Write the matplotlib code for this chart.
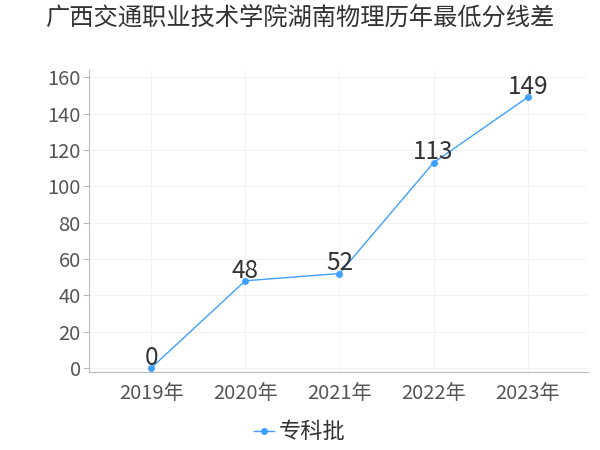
import matplotlib.pyplot as plt

plt.rcParams['font.family'] = ['Noto Sans CJK SC', 'DejaVu Sans']

years = ["2019年", "2020年", "2021年", "2022年", "2023年"]
scores = [0, 48, 52, 113, 149]
series_name = "专科批"
yticks = [0, 20, 40, 60, 80, 100, 120, 140, 160]

fig = plt.figure(figsize=(6, 4.5), dpi=100)
ax = fig.add_axes([89 / 600, 1 - 372 / 450, 499 / 600, 302 / 450])

x = list(range(len(years)))
ax.plot(x, scores, color='#3fa0ff', linewidth=1, marker='o', markersize=4,
        label=series_name, zorder=3)
for xi, v in zip(x, scores):
    ax.text(xi, v - 1.5, str(v), ha='center', va='bottom', fontsize=17.5, color='#333333')

ax.set_xlim(-0.66, 4.64)
ax.set_ylim(-2.2, 164)
ax.set_xticks(x)
ax.set_xticklabels(years)
ax.set_yticks(yticks)
ax.tick_params(axis='x', length=0, labelsize=14.5, colors='#555555', pad=8)
ax.tick_params(axis='y', length=4, labelsize=14.5, colors='#555555', pad=2)
ax.tick_params(axis='y', color='#bbbbbb')
ax.grid(True, color='#f2f2f2', linewidth=0.8)
ax.set_axisbelow(True)
for s in ['top', 'right']:
    ax.spines[s].set_visible(False)
ax.spines['left'].set_color('#bbbbbb')
ax.spines['bottom'].set_color('#bbbbbb')

fig.text(0.5, 1 - 18 / 450, "广西交通职业技术学院湖南物理历年最低分线差", ha='center', va='center',
         fontsize=17.5, color='#333333')
fig.legend(loc='center', bbox_to_anchor=(0.5, 1 - 432 / 450), frameon=False, fontsize=16,
           handlelength=0.9, handletextpad=0.2, labelcolor='#333333')

fig.savefig('out.png')
